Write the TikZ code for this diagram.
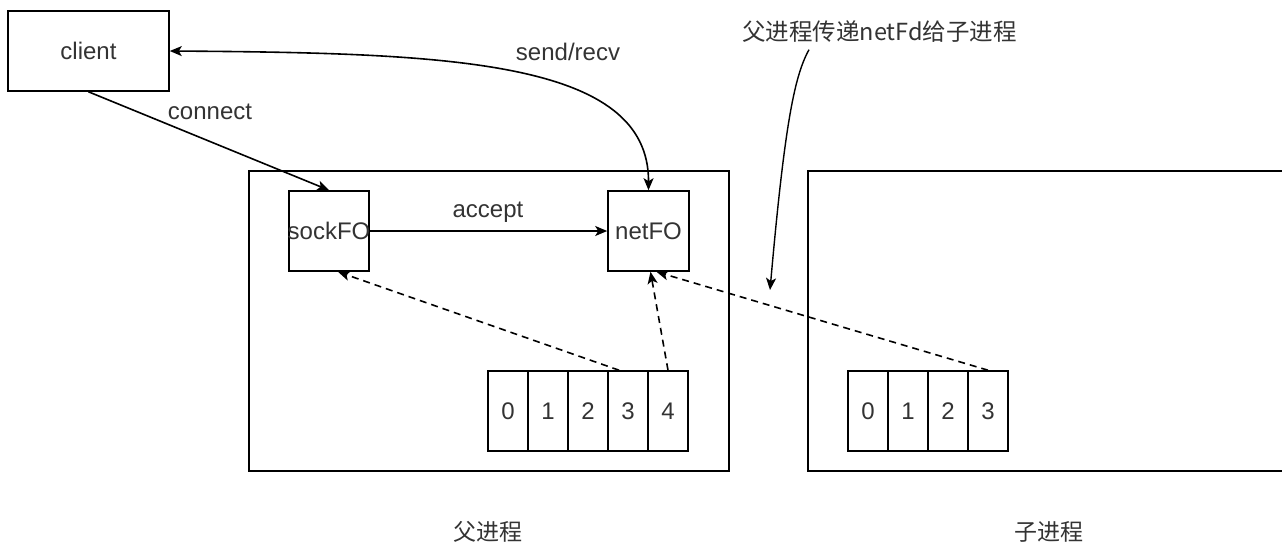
\documentclass[tikz,border=0pt]{standalone}
\usepackage{fontspec}
\setmainfont{Liberation Sans}
\newfontfamily\cjk{Noto Sans CJK SC}
\usetikzlibrary{arrows.meta}
\begin{document}
\begin{tikzpicture}[x=1pt,y=-1pt,
  line width=1.6pt,
  box/.style={draw=black,line width=1.6pt,inner sep=0pt,font=\fontsize{24}{28}\selectfont,text=black!80},
  cellbox/.style={box,minimum width=40pt,minimum height=80pt},
  lbl/.style={inner sep=0pt,font=\fontsize{24}{28}\selectfont,text=black!80},
  cjklbl/.style={inner sep=0pt,font=\cjk\fontsize{23}{28}\selectfont,text=black!80},
  arr/.style={-{Stealth[length=12pt,width=10pt,inset=3pt]},line width=1.6pt},
  dasharr/.style={arr,dash pattern=on 7pt off 5pt}]
\useasboundingbox (0,0) rectangle (1282,544);
\begin{scope}
\clip (0,0) rectangle (1282,544);
% process boxes
\node[box,minimum width=480pt,minimum height=300pt] (parent) at (489,321) {};
\node[box,minimum width=480pt,minimum height=300pt] (child) at (1048,321) {};
\end{scope}
% client
\node[box,minimum width=161pt,minimum height=80pt] (client) at (88.5,51) {client};
% fd objects
\node[box,minimum width=80pt,minimum height=80pt] (sock) at (329,231) {\makebox[0pt]{sockFO}};
\node[box,minimum width=81pt,minimum height=80pt] (net) at (648.5,231) {netFO};
% parent fd table
\foreach \i in {0,...,4}{
  \node[cellbox] (p\i) at (508+40*\i,411) {\i};
}
% child fd table
\foreach \i in {0,...,3}{
  \node[cellbox] (c\i) at (868+40*\i,411) {\i};
}
% labels
\node[lbl] (lconnect) at (210,112) {connect};
\node[lbl] (lsend) at (568,52) {send/recv};
\node[lbl] (laccept) at (488,212) {accept};
\node[cjklbl,font=\cjk\fontsize{23.5}{28}\selectfont] (lpass) at (879.5,32) {父进程传递netFd给子进程};
\node[cjklbl] (lparent) at (488,532) {父进程};
\node[cjklbl] (lchild) at (1049,532) {子进程};
% connectors
\draw[arr] (client.south) -- (sock.north);
\draw[arr,{Stealth[length=12pt,width=10pt,inset=3pt]}-{Stealth[length=12pt,width=10pt,inset=3pt]}] (client.east) .. controls (450,53) and (649,60) .. (net.north);
\draw[arr] (sock.east) -- (net.west);
\draw[dasharr] ([xshift=-9pt]p3.north) -- ([xshift=9pt]sock.south);
\draw[dasharr] (p4.north) -- ([xshift=2pt]net.south);
\draw[dasharr] (c3.north) -- ([xshift=8pt]net.south);
\coordinate (passstart) at ([xshift=-70.5pt,yshift=-6pt]lpass.south);
\coordinate (passend) at (770,290);
\draw[arr,line width=1.4pt] (passstart) .. controls (795,75) and (785,120) .. (passend);
\end{tikzpicture}
\end{document}
